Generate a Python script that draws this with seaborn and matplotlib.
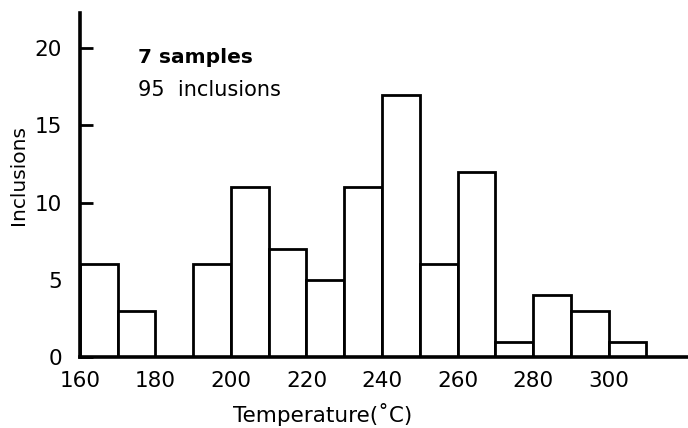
import numpy as np
import seaborn as sns
import matplotlib.pyplot as plt

# histogram counts per 10 degree bin
bin_starts = [160, 170, 180, 190, 200, 210, 220, 230, 240, 250, 260, 270, 280, 290, 300]
counts = [6, 3, 0, 6, 11, 7, 5, 11, 17, 6, 12, 1, 4, 3, 1]
bin_edges = list(range(160, 320, 10))
x_ticks = [160, 180, 200, 220, 240, 260, 280, 300]
y_ticks = [0, 5, 10, 15, 20]
note_lines = ['7 samples', '95  inclusions']

sns.set_style('ticks')
plt.rcParams['font.family'] = ['DejaVu Sans']
plt.rcParams['text.color'] = 'black'
plt.rcParams['axes.labelcolor'] = 'black'
plt.rcParams['xtick.color'] = 'black'
plt.rcParams['ytick.color'] = 'black'

fig = plt.figure(figsize=(6.88, 4.28), dpi=100)
ax = fig.add_axes([0.116, 0.166, 0.884, 0.804])

sns.histplot(x=bin_starts, weights=counts, bins=bin_edges, ax=ax,
             color='white', edgecolor='black', linewidth=2.0, alpha=1)

ax.set_xlim(160, 321)
ax.set_ylim(0, 22.3)
ax.set_xticks(x_ticks)
ax.set_yticks(y_ticks)
ax.tick_params(axis='x', length=0, pad=10, labelsize=15.5)
ax.tick_params(axis='y', direction='in', length=9, width=2, pad=13, labelsize=15.5)

sns.despine(ax=ax)
for side in ['left', 'bottom']:
    ax.spines[side].set_linewidth(2.6)
    ax.spines[side].set_color('black')

ax.set_xlabel('Temperature(˚C)', fontsize=15.5, labelpad=12)
ax.xaxis.set_label_coords(0.40, -0.135)
ax.set_ylabel('Inclusions', fontsize=14.5)
ax.yaxis.set_label_coords(-0.085, 0.53)

ax.text(0.096, 0.869, note_lines[0], transform=ax.transAxes, fontsize=14.5,
        fontweight='bold', va='center')
ax.text(0.096, 0.776, note_lines[1], transform=ax.transAxes, fontsize=15, va='center')

fig.savefig('out.png', dpi=100)
